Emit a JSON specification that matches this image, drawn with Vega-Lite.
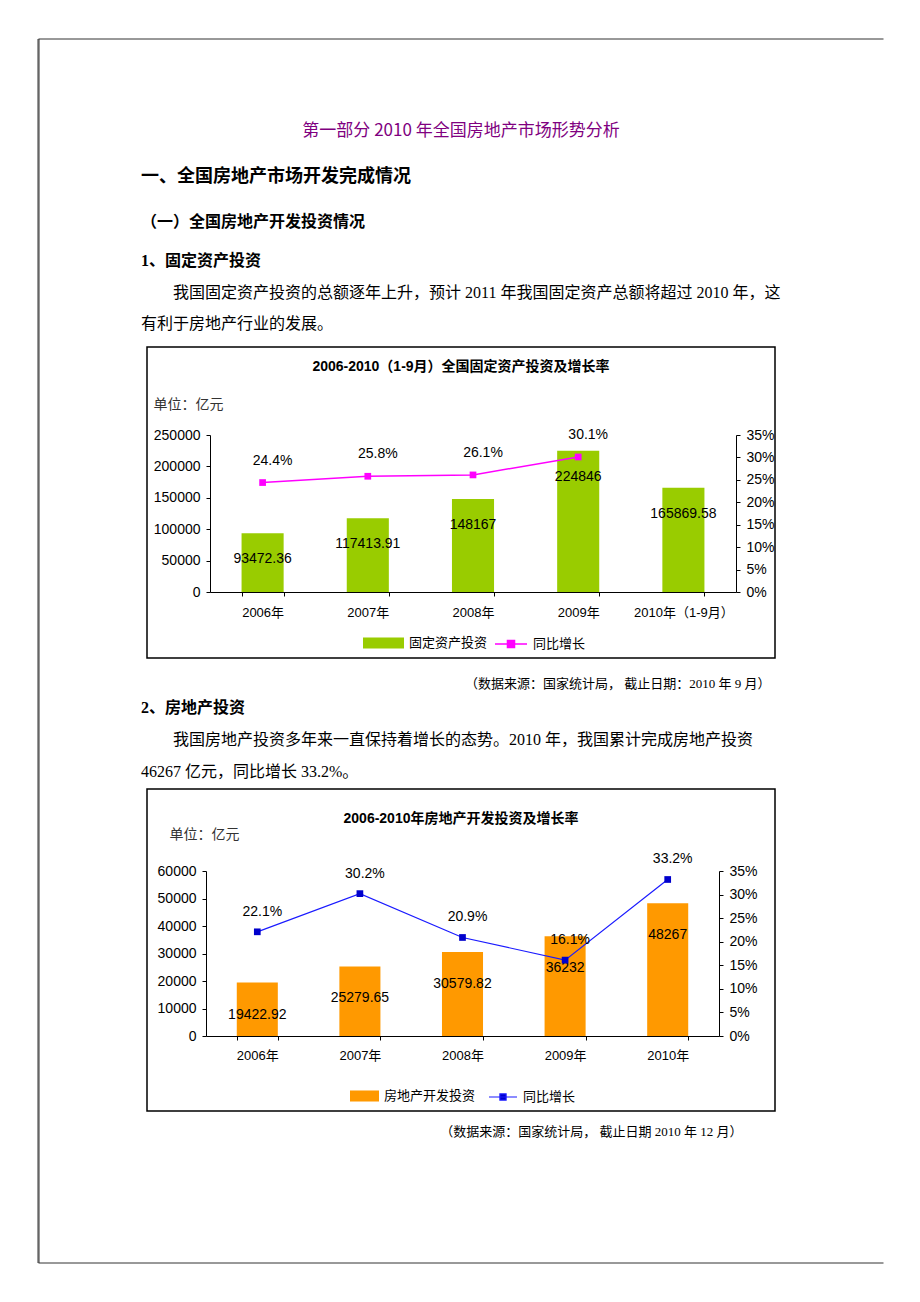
{
  "$schema": "https://vega.github.io/schema/vega-lite/v6.json",
  "background": "white",
  "padding": {"left": 37, "top": 38, "right": 37, "bottom": 40},
  "bounds": "flush",
  "spacing": 0,
  "config": {
    "view": {"stroke": null},
    "axis": {"grid": false, "domainColor": "#000", "tickColor": "#000", "labelColor": "#000", "labelFont": "Liberation Sans, Noto Sans CJK SC", "labelFontSize": 14, "tickSize": 4},
    "legend": {"labelFont": "Liberation Sans, Noto Sans CJK SC", "labelFontSize": 13, "labelColor": "#000", "title": null, "padding": 0}
  },
  "hconcat": [
    {
      "width": 1, "height": 1224,
      "data": {"values": [{"edge": "left"}]},
      "mark": {"type": "rule", "color": "#333", "strokeWidth": 1},
      "encoding": {"x": {"datum": 0, "type": "quantitative", "scale": {"domain": [0, 1]}, "axis": null}}
    },
    {
      "vconcat": [
        {
          "width": 844, "height": 61,
          "data": {"values": [{"edge": "top"}]},
          "mark": {"type": "rule", "color": "#333", "strokeWidth": 1, "strokeCap": "square"},
          "encoding": {"y": {"datum": 1, "type": "quantitative", "scale": {"domain": [0, 1]}, "axis": null}}
        },
        {
          "width": 640, "height": 62,
          "data": {"values": [{"line": "第一部分 2010 年全国房地产市场形势分析"}]},
          "mark": {"type": "text", "align": "center", "baseline": "middle", "font": "Noto Sans CJK SC", "fontSize": 17, "color": "#800080"},
          "encoding": {"text": {"field": "line", "type": "nominal"}}
        },
        {
          "width": 640, "height": 30,
          "data": {"values": [{"line": "一、全国房地产市场开发完成情况"}]},
          "mark": {"type": "text", "align": "left", "baseline": "middle", "font": "Noto Sans CJK SC", "fontSize": 18, "fontWeight": "bold", "color": "#000"},
          "encoding": {"x": {"datum": 0, "type": "quantitative", "scale": {"domain": [0, 1]}, "axis": null}, "text": {"field": "line", "type": "nominal"}}
        },
        {
          "width": 640, "height": 60,
          "data": {"values": [{"line": "（一）全国房地产开发投资情况"}]},
          "mark": {"type": "text", "align": "left", "baseline": "middle", "font": "Noto Sans CJK SC", "fontSize": 16, "fontWeight": "bold", "color": "#000"},
          "encoding": {"x": {"datum": 0, "type": "quantitative", "scale": {"domain": [0, 1]}, "axis": null}, "text": {"field": "line", "type": "nominal"}}
        },
        {
          "width": 640, "height": 18,
          "data": {"values": [{"line": "1、固定资产投资"}]},
          "mark": {"type": "text", "align": "left", "baseline": "middle", "font": "Liberation Serif, Noto Sans CJK SC", "fontSize": 16, "fontWeight": "bold", "color": "#000"},
          "encoding": {"x": {"datum": 0, "type": "quantitative", "scale": {"domain": [0, 1]}, "axis": null}, "text": {"field": "line", "type": "nominal"}}
        },
        {
          "width": 640, "height": 77,
          "data": {"values": [
            {"ln": 1, "line": "\u200b　　我国固定资产投资的总额逐年上升，预计 2011 年我国固定资产总额将超过 2010 年，这"},
            {"ln": 2, "line": "有利于房地产行业的发展。"}
          ]},
          "mark": {"type": "text", "align": "left", "baseline": "middle", "font": "Liberation Serif, Noto Sans CJK SC", "fontSize": 16, "color": "#000"},
          "encoding": {
            "x": {"datum": 0, "type": "quantitative", "scale": {"domain": [0, 1]}, "axis": null},
            "y": {"field": "ln", "type": "ordinal", "axis": null, "scale": {"type": "point", "padding": 0.742}},
            "text": {"field": "line", "type": "nominal"}
          }
        },
        {
          "width": 628, "height": 311,
          "view": {"stroke": "#000", "strokeWidth": 1.5},
          "title": {"text": "2006-2010（1-9月）全国固定资产投资及增长率", "frame": "group", "anchor": "middle", "offset": -34, "baseline": "middle", "font": "Liberation Sans, Noto Sans CJK SC", "fontSize": 14, "fontWeight": "bold", "color": "#000"},
          "data": {"values": [
            {"year": "2006年", "value": 93472.36, "growth": 0.244},
            {"year": "2007年", "value": 117413.91, "growth": 0.258},
            {"year": "2008年", "value": 148167, "growth": 0.261},
            {"year": "2009年", "value": 224846, "growth": 0.301},
            {"year": "2010年（1-9月）", "value": 165869.58, "growth": null}
          ]},
          "encoding": {
            "x": {"field": "year", "type": "nominal", "sort": null, "title": null,
              "scale": {"range": [63, 589], "paddingInner": 0.6, "paddingOuter": 0.3},
              "axis": {"orient": "bottom", "offset": -66, "labelAngle": 0, "labelFontSize": 13, "labelPadding": 10, "tickBand": "extent", "tickSize": 4}}
          },
          "layer": [
            {
              "encoding": {
                "y": {"field": "value", "type": "quantitative", "title": "单位：亿元",
                  "scale": {"domain": [0, 250000], "range": [245, 88], "nice": false, "zero": true},
                  "axis": {"orient": "left", "offset": -63, "values": [0, 50000, 100000, 150000, 200000, 250000], "format": "d", "labelPadding": 6,
                    "titleAngle": 0, "titleAlign": "left", "titleBaseline": "middle", "titleX": -57, "titleY": 57,
                    "titleFont": "Liberation Serif, Noto Sans CJK SC", "titleFontSize": 14, "titleFontWeight": "normal", "titleColor": "#333"}}
              },
              "layer": [
                {
                  "mark": {"type": "bar"},
                  "encoding": {"fill": {"datum": "固定资产投资", "scale": {"range": ["#99CC00"]},
                    "legend": {"orient": "none", "legendX": 216, "legendY": 275.5, "symbolType": "M-1,-0.27H1V0.27H-1Z", "symbolSize": 1681, "symbolStrokeWidth": 0, "labelOffset": 5}}}
                },
                {
                  "mark": {"type": "text", "baseline": "middle", "dy": 26, "font": "Liberation Sans", "fontSize": 14, "color": "#000"},
                  "encoding": {"text": {"field": "value", "type": "nominal"}}
                }
              ]
            },
            {
              "encoding": {
                "y": {"field": "growth", "type": "quantitative", "title": null,
                  "scale": {"domain": [0, 0.35], "range": [245, 88], "nice": false, "zero": true},
                  "axis": {"orient": "right", "offset": -39, "values": [0, 0.05, 0.1, 0.15, 0.2, 0.25, 0.3, 0.35], "format": ".0%", "labelPadding": 6}}
              },
              "layer": [
                {
                  "mark": {"type": "line", "strokeWidth": 1.5},
                  "encoding": {"stroke": {"datum": "同比增长", "scale": {"range": ["#FF00FF"]},
                    "legend": {"orient": "none", "legendX": 347, "legendY": 280, "symbolType": "M-1,0H1M-0.22,-0.22H0.22V0.22H-0.22Z", "symbolSize": 1024, "symbolStrokeWidth": 1.5, "symbolFillColor": "#FF00FF", "labelOffset": 5}}}
                },
                {
                  "mark": {"type": "point", "shape": "square", "filled": true, "size": 45, "color": "#FF00FF", "opacity": 1}
                },
                {
                  "mark": {"type": "text", "baseline": "middle", "dx": 10, "dy": -22, "font": "Liberation Sans", "fontSize": 14, "color": "#000"},
                  "encoding": {"text": {"field": "growth", "type": "quantitative", "format": ".1%"}}
                }
              ]
            }
          ],
          "resolve": {"scale": {"y": "independent"}}
        },
        {
          "width": 640, "height": 17,
          "data": {"values": []},
          "mark": {"type": "text"},
          "encoding": {}
        },
        {
          "width": 619, "height": 18,
          "data": {"values": [{"line": "（数据来源：国家统计局， 截止日期：2010 年 9 月）"}]},
          "mark": {"type": "text", "align": "right", "baseline": "middle", "font": "Liberation Serif, Noto Sans CJK SC", "fontSize": 13, "color": "#000"},
          "encoding": {"x": {"datum": 1, "type": "quantitative", "scale": {"domain": [0, 1]}, "axis": null}, "text": {"field": "line", "type": "nominal"}}
        },
        {
          "width": 640, "height": 30,
          "data": {"values": [{"line": "2、房地产投资"}]},
          "mark": {"type": "text", "align": "left", "baseline": "middle", "font": "Liberation Serif, Noto Sans CJK SC", "fontSize": 16, "fontWeight": "bold", "color": "#000"},
          "encoding": {"x": {"datum": 0, "type": "quantitative", "scale": {"domain": [0, 1]}, "axis": null}, "text": {"field": "line", "type": "nominal"}}
        },
        {
          "width": 640, "height": 66,
          "data": {"values": [
            {"ln": 1, "line": "\u200b　　我国房地产投资多年来一直保持着增长的态势。2010 年，我国累计完成房地产投资"},
            {"ln": 2, "line": "46267 亿元，同比增长 33.2%。"}
          ]},
          "mark": {"type": "text", "align": "left", "baseline": "middle", "font": "Liberation Serif, Noto Sans CJK SC", "fontSize": 16, "color": "#000"},
          "encoding": {
            "x": {"datum": 0, "type": "quantitative", "scale": {"domain": [0, 1]}, "axis": null},
            "y": {"field": "ln", "type": "ordinal", "axis": null, "scale": {"type": "point", "padding": 0.53}},
            "text": {"field": "line", "type": "nominal"}
          }
        },
        {
          "width": 628, "height": 322,
          "view": {"stroke": "#000", "strokeWidth": 1.5},
          "title": {"text": "2006-2010年房地产开发投资及增长率", "frame": "group", "anchor": "middle", "offset": -44, "baseline": "middle", "font": "Liberation Sans, Noto Sans CJK SC", "fontSize": 14, "fontWeight": "bold", "color": "#000"},
          "data": {"values": [
            {"year": "2006年", "value": 19422.92, "growth": 0.221},
            {"year": "2007年", "value": 25279.65, "growth": 0.302},
            {"year": "2008年", "value": 30579.82, "growth": 0.209},
            {"year": "2009年", "value": 36232, "growth": 0.161},
            {"year": "2010年", "value": 48267, "growth": 0.332}
          ]},
          "encoding": {
            "x": {"field": "year", "type": "nominal", "sort": null, "title": null,
              "scale": {"range": [59, 572], "paddingInner": 0.6, "paddingOuter": 0.3},
              "axis": {"orient": "bottom", "offset": -75, "labelAngle": 0, "labelFontSize": 13, "labelPadding": 9, "tickBand": "extent", "tickSize": 4}}
          },
          "layer": [
            {
              "encoding": {
                "y": {"field": "value", "type": "quantitative", "title": "单位：亿元",
                  "scale": {"domain": [0, 60000], "range": [247, 82], "nice": false, "zero": true},
                  "axis": {"orient": "left", "offset": -59, "values": [0, 10000, 20000, 30000, 40000, 50000, 60000], "format": "d", "labelPadding": 6,
                    "titleAngle": 0, "titleAlign": "left", "titleBaseline": "middle", "titleX": -37, "titleY": 45,
                    "titleFont": "Liberation Serif, Noto Sans CJK SC", "titleFontSize": 14, "titleFontWeight": "normal", "titleColor": "#333"}}
              },
              "layer": [
                {
                  "mark": {"type": "bar"},
                  "encoding": {"fill": {"datum": "房地产开发投资", "scale": {"range": ["#FF9900"]},
                    "legend": {"orient": "none", "legendX": 203, "legendY": 292.5, "symbolType": "M-1,-0.38H1V0.38H-1Z", "symbolSize": 841, "symbolStrokeWidth": 0, "labelOffset": 5}}}
                },
                {
                  "mark": {"type": "text", "baseline": "middle", "dy": 32, "font": "Liberation Sans", "fontSize": 14, "color": "#000"},
                  "encoding": {"text": {"field": "value", "type": "nominal"}}
                }
              ]
            },
            {
              "encoding": {
                "y": {"field": "growth", "type": "quantitative", "title": null,
                  "scale": {"domain": [0, 0.35], "range": [247, 82], "nice": false, "zero": true},
                  "axis": {"orient": "right", "offset": -56, "values": [0, 0.05, 0.1, 0.15, 0.2, 0.25, 0.3, 0.35], "format": ".0%", "labelPadding": 6}}
              },
              "layer": [
                {
                  "mark": {"type": "line", "strokeWidth": 1.2},
                  "encoding": {"stroke": {"datum": "同比增长", "scale": {"range": ["#1a1aff"]},
                    "legend": {"orient": "none", "legendX": 341, "legendY": 293, "symbolType": "M-1,0H1M-0.22,-0.22H0.22V0.22H-0.22Z", "symbolSize": 784, "symbolStrokeWidth": 1.2, "symbolFillColor": "#0000CC", "labelOffset": 5}}}
                },
                {
                  "mark": {"type": "point", "shape": "square", "filled": true, "size": 45, "color": "#0000CC", "opacity": 1}
                },
                {
                  "mark": {"type": "text", "baseline": "middle", "dx": 5, "dy": -20, "font": "Liberation Sans", "fontSize": 14, "color": "#000"},
                  "encoding": {"text": {"field": "growth", "type": "quantitative", "format": ".1%"}}
                }
              ]
            }
          ],
          "resolve": {"scale": {"y": "independent"}}
        },
        {
          "width": 563, "height": 42,
          "data": {"values": [{"line": "（数据来源：国家统计局， 截止日期 2010 年 12 月）"}]},
          "mark": {"type": "text", "align": "right", "baseline": "middle", "font": "Liberation Serif, Noto Sans CJK SC", "fontSize": 13, "color": "#000"},
          "encoding": {"x": {"datum": 1, "type": "quantitative", "scale": {"domain": [0, 1]}, "axis": null}, "text": {"field": "line", "type": "nominal"}}
        },
        {
          "width": 844, "height": 110,
          "data": {"values": [{"edge": "bottom"}]},
          "mark": {"type": "rule", "color": "#333", "strokeWidth": 1, "strokeCap": "square"},
          "encoding": {"y": {"datum": 0, "type": "quantitative", "scale": {"domain": [0, 1]}, "axis": null}}
        }
      ],
      "spacing": 0,
      "center": true,
      "bounds": "flush",
      "resolve": {"scale": {"fill": "independent", "stroke": "independent"}, "legend": {"fill": "independent", "stroke": "independent"}}
    },
    {
      "width": 1, "height": 1224,
      "data": {"values": [{"edge": "right"}]},
      "mark": {"type": "rule", "color": "#333", "strokeWidth": 1},
      "encoding": {"x": {"datum": 0, "type": "quantitative", "scale": {"domain": [0, 1]}, "axis": null}}
    }
  ]
}
